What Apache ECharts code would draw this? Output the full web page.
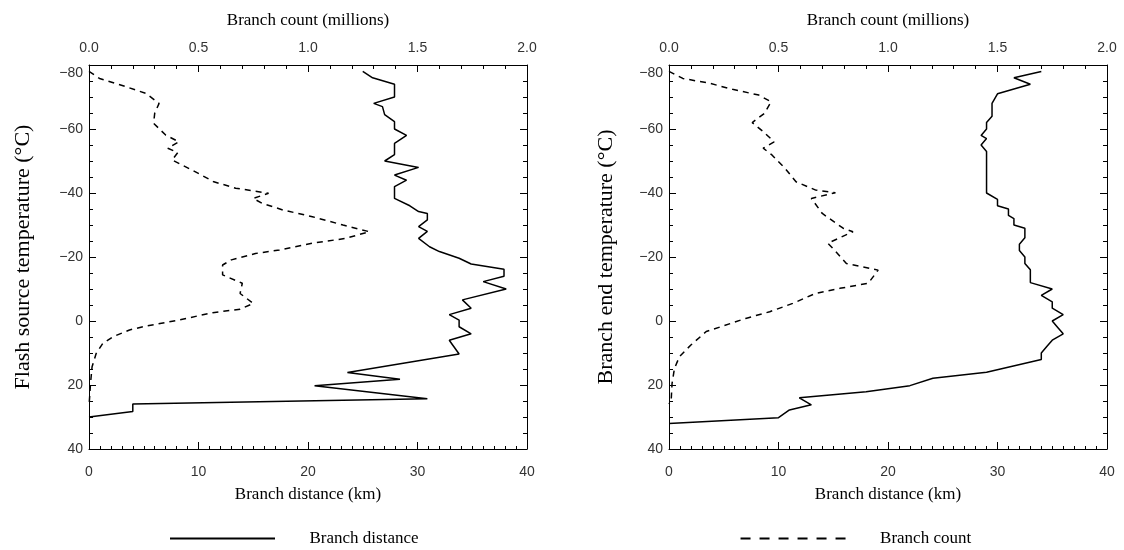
<!DOCTYPE html>
<html>
<head>
<meta charset="utf-8">
<title>Branch distance and branch count versus temperature</title>
<script src="https://cdn.jsdelivr.net/npm/echarts@6/dist/echarts.min.js"></script>
<style>
  html, body { margin: 0; padding: 0; background: #fff; }
  #chart { width: 1124px; height: 550px; }
</style>
</head>
<body>
<div id="chart"></div>
<script>
// Axis ticks
const tempTicks = [-80, -60, -40, -20, 0, 20, 40];
const distanceTicks = [0, 10, 20, 30, 40];
const countTicks = [0.0, 0.5, 1.0, 1.5, 2.0];

// Left panel: by flash source temperature
const srcDistTemp = [-78, -76, -74, -70, -68, -67, -64.5, -62.3, -60, -58, -55.5, -52, -50, -48, -45.6, -44, -42, -38.3, -36, -34.2, -33.6, -31.6, -29.5, -28, -25.8, -23.2, -21.7, -19.6, -17.8, -16.2, -14, -12.3, -10, -6.6, -4, -2, -0.3, 1.8, 4, 6, 10.3, 16.1, 18.2, 20.2, 24.3, 25.9, 28.3, 30];
const srcDistKm   = [25.0, 25.9, 27.9, 27.9, 26.0, 26.8, 27.0, 27.9, 27.9, 29.0, 27.9, 27.9, 27.0, 30.1, 27.9, 29.0, 27.9, 27.9, 29.3, 30.1, 30.9, 30.9, 30.1, 30.9, 30.1, 31.1, 32.0, 33.8, 34.9, 37.9, 37.9, 36.0, 38.1, 34.1, 34.9, 32.9, 33.8, 33.8, 34.9, 32.9, 33.8, 23.6, 28.4, 20.6, 30.9, 4.0, 4.0, 0.0];

const srcCountTemp = [-78, -75.8, -73.2, -71.1, -68, -64.9, -61.8, -58.1, -56, -54, -52.6, -50.3, -47.2, -43.5, -41.5, -39.9, -38.3, -36.8, -34.7, -32.6, -30, -27.9, -25.8, -24.3, -22.2, -21.1, -19.1, -17.5, -14.4, -11.8, -8.6, -5.5, -3.7, -2.6, -0.3, 1.6, 2.8, 4.9, 7.0, 10.1, 14.3, 19.5, 24.7, 26];
const srcCountM    = [0.0, 0.048, 0.17, 0.26, 0.32, 0.30, 0.295, 0.35, 0.41, 0.36, 0.405, 0.38, 0.47, 0.57, 0.67, 0.82, 0.75, 0.79, 0.885, 1.02, 1.16, 1.28, 1.17, 1.02, 0.87, 0.76, 0.65, 0.61, 0.61, 0.70, 0.69, 0.75, 0.69, 0.565, 0.41, 0.26, 0.185, 0.11, 0.063, 0.033, 0.014, 0.007, 0.002, 0.0];

// Right panel: by branch end temperature
const endDistTemp = [-78, -76, -74, -71, -68, -64, -62, -60, -58, -57, -55, -53, -50, -46, -42, -40, -38, -36, -35, -33, -32, -30, -29, -26, -24, -22, -20, -18, -16, -12, -10, -8, -6, -4, -2, 0, 2, 4, 6, 8, 10, 12, 16, 17.9, 20.2, 22.1, 24.0, 26.2, 27.8, 30.2, 32];
const endDistKm   = [34, 31.5, 33, 30, 29.5, 29.5, 29, 29, 28.5, 29, 28.5, 29, 29, 29, 29, 29, 30, 30, 31, 31, 31.5, 31.5, 32.5, 32.5, 32, 32, 32.5, 32.5, 33, 33, 35, 34, 35, 35, 36, 35, 35.5, 36, 35, 34.5, 34, 34, 29, 24.1, 22.0, 18.0, 11.9, 13.0, 11.0, 10.0, 0.0];

const endCountTemp = [-78, -75.8, -74.3, -72.4, -70.6, -68.5, -64.9, -62, -59.2, -56, -54, -51.9, -47.7, -43.5, -40.9, -40.1, -38.3, -33.6, -29, -27.9, -24.3, -22.2, -18, -15.9, -11.8, -10.2, -8.65, -5.5, -2.9, -0.8, 1.6, 3.3, 7.5, 11.1, 14.8, 19.5, 24.7, 26];
const endCountM    = [0.0, 0.063, 0.185, 0.29, 0.41, 0.466, 0.436, 0.38, 0.43, 0.48, 0.43, 0.47, 0.53, 0.58, 0.67, 0.76, 0.65, 0.70, 0.795, 0.84, 0.725, 0.755, 0.81, 0.955, 0.91, 0.78, 0.67, 0.565, 0.46, 0.35, 0.245, 0.17, 0.10, 0.048, 0.025, 0.014, 0.01, 0.0];

const pairs = (xs, ys) => xs.map((x, i) => [x, ys[i]]);

const serif = 'Liberation Serif';
const sans = 'Liberation Sans';
const ink = '#000';
const tickInk = '#333';

function bottomAxis(grid, name) {
  return {
    type: 'value', gridIndex: grid, position: 'bottom',
    min: distanceTicks[0], max: distanceTicks[distanceTicks.length - 1], interval: 10,
    name: name, nameLocation: 'middle', nameGap: 37,
    nameTextStyle: { fontFamily: serif, fontSize: 17, color: ink },
    axisLine: { show: true, onZero: false, lineStyle: { color: ink, width: 1 } },
    axisTick: { show: true, inside: true, length: 7, lineStyle: { color: ink } },
    minorTick: { show: true, splitNumber: 10, length: 3, lineStyle: { color: ink } },
    splitLine: { show: false },
    axisLabel: { margin: 16, fontFamily: sans, fontSize: 14, color: tickInk,
      formatter: v => distanceTicks.includes(v) ? String(v) : '' }
  };
}

function topAxis(grid, name) {
  return {
    type: 'value', gridIndex: grid, position: 'top',
    min: countTicks[0], max: countTicks[countTicks.length - 1], interval: 0.5,
    name: name, nameLocation: 'middle', nameGap: 36,
    nameTextStyle: { fontFamily: serif, fontSize: 17, color: ink },
    axisLine: { show: true, onZero: false, lineStyle: { color: ink, width: 1 } },
    axisTick: { show: true, inside: true, length: 7, lineStyle: { color: ink } },
    minorTick: { show: true, splitNumber: 5, length: 4, lineStyle: { color: ink } },
    splitLine: { show: false },
    axisLabel: { margin: 10, fontFamily: sans, fontSize: 14, color: tickInk,
      formatter: v => v.toFixed(1) }
  };
}

function tempAxis(grid, side, name, gap) {
  const labelled = side === 'left';
  return {
    type: 'value', gridIndex: grid, position: side, inverse: true,
    min: tempTicks[0], max: tempTicks[tempTicks.length - 1], interval: 20,
    name: labelled ? name : '', nameLocation: 'middle', nameGap: gap || 52,
    nameTextStyle: { fontFamily: serif, fontSize: 22, color: ink },
    axisLine: { show: true, onZero: false, lineStyle: { color: ink, width: 1 } },
    axisTick: { show: true, inside: true, length: 7, lineStyle: { color: ink } },
    minorTick: { show: true, splitNumber: 4, length: 4, lineStyle: { color: ink } },
    splitLine: { show: false },
    axisLabel: {
      show: labelled, margin: 6, fontFamily: sans, fontSize: 14, color: tickInk,
      formatter: v => {
        const s = (v < 0 ? '\u2212' + Math.abs(v) : String(v));
        return v === tempTicks[0] ? '{top|' + s + '}' : s;
      },
      rich: { top: { fontFamily: sans, fontSize: 14, color: tickInk, padding: [17, 0, 0, 0] } }
    }
  };
}

const solid = { color: ink, width: 1.5, type: 'solid' };
const dashed = { color: ink, width: 1.5, type: [6, 5] };

// Legend keys: a plain bar and a row of six dashes
const solidKey = 'path://M0,0h105v2h-105z';
const dashKey = 'path://M0,0h10v2h-10z M19,0h10v2h-10z M38,0h10v2h-10z M57,0h10v2h-10z M76,0h10v2h-10z M95,0h10v2h-10z';

const option = {
  backgroundColor: '#fff',
  animation: false,
  grid: [
    { left: 89, top: 65, width: 438, height: 384 },
    { left: 669, top: 65, width: 438, height: 384 }
  ],
  xAxis: [
    bottomAxis(0, 'Branch distance (km)'),
    topAxis(0, 'Branch count (millions)'),
    bottomAxis(1, 'Branch distance (km)'),
    topAxis(1, 'Branch count (millions)')
  ],
  yAxis: [
    tempAxis(0, 'left', 'Flash source temperature (\u00b0C)', 55),
    tempAxis(0, 'right', ''),
    tempAxis(1, 'left', 'Branch end temperature (\u00b0C)', 52),
    tempAxis(1, 'right', '')
  ],
  legend: {
    left: 165, top: 525, orient: 'horizontal',
    itemWidth: 108, itemHeight: 2, itemGap: 322,
    selectedMode: false,
    textStyle: { fontFamily: serif, fontSize: 17, color: ink, padding: [0, 0, 0, 28] },
    data: [
      { name: 'Branch distance', icon: solidKey, itemStyle: { color: ink, borderWidth: 0 } },
      { name: 'Branch count', icon: dashKey, itemStyle: { color: ink, borderWidth: 0 } }
    ]
  },
  series: [
    { name: 'Branch distance', type: 'line', xAxisIndex: 0, yAxisIndex: 0,
      data: pairs(srcDistKm, srcDistTemp), showSymbol: false, symbol: 'none',
      lineStyle: solid, itemStyle: { color: ink } },
    { name: 'Branch count', type: 'line', xAxisIndex: 1, yAxisIndex: 0,
      data: pairs(srcCountM, srcCountTemp), showSymbol: false, symbol: 'none',
      lineStyle: dashed, itemStyle: { color: ink } },
    { name: 'Branch distance', type: 'line', xAxisIndex: 2, yAxisIndex: 2,
      data: pairs(endDistKm, endDistTemp), showSymbol: false, symbol: 'none',
      lineStyle: solid, itemStyle: { color: ink } },
    { name: 'Branch count', type: 'line', xAxisIndex: 3, yAxisIndex: 2,
      data: pairs(endCountM, endCountTemp), showSymbol: false, symbol: 'none',
      lineStyle: dashed, itemStyle: { color: ink } }
  ]
};

const chart = echarts.init(document.getElementById('chart'), null, { renderer: 'canvas' });
chart.setOption(option);
</script>
</body>
</html>
